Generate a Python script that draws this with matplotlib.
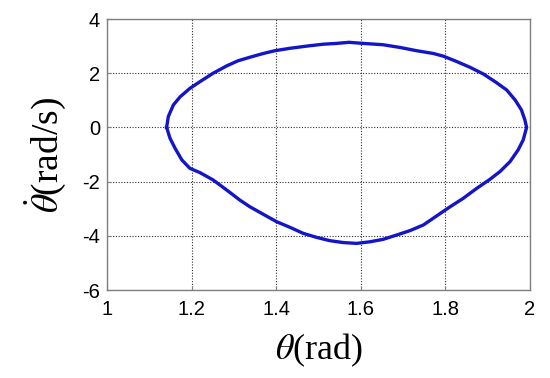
import matplotlib
matplotlib.use("Agg")
import matplotlib.pyplot as plt

theta = [1.141, 1.145, 1.157, 1.173, 1.196, 1.220, 1.251, 1.283, 1.310, 1.338,
         1.370, 1.397, 1.433, 1.472, 1.511, 1.543, 1.572, 1.606, 1.653, 1.693,
         1.732, 1.771, 1.795, 1.827, 1.858, 1.890, 1.921, 1.945, 1.965, 1.980,
         1.988, 1.992, 1.984, 1.972, 1.953, 1.929, 1.905, 1.874, 1.842, 1.811,
         1.779, 1.748, 1.716, 1.685, 1.653, 1.622, 1.590, 1.559, 1.527, 1.496,
         1.464, 1.433, 1.401, 1.370, 1.338, 1.314, 1.283, 1.251, 1.220, 1.196,
         1.177, 1.161, 1.149, 1.141]
theta_dot = [0.00, 0.40, 0.83, 1.13, 1.44, 1.69, 2.00, 2.27, 2.46, 2.59,
             2.73, 2.83, 2.92, 3.00, 3.07, 3.10, 3.14, 3.10, 3.05, 2.95,
             2.83, 2.73, 2.63, 2.43, 2.22, 1.97, 1.65, 1.38, 1.01, 0.64,
             0.27, 0.00, -0.46, -0.83, -1.26, -1.63, -1.92, -2.25, -2.62, -2.93,
             -3.27, -3.60, -3.81, -3.97, -4.13, -4.22, -4.28, -4.25, -4.18, -4.06,
             -3.91, -3.69, -3.48, -3.21, -2.93, -2.68, -2.31, -1.94, -1.67, -1.51,
             -1.20, -0.77, -0.40, 0.00]

xticks = [1, 1.2, 1.4, 1.6, 1.8, 2]
xticklabels = ["1", "1.2", "1.4", "1.6", "1.8", "2"]
yticks = [-6, -4, -2, 0, 2, 4]
yticklabels = ["-6", "-4", "-2", "0", "2", "4"]

plt.rcParams['mathtext.fontset'] = 'stix'

fig = plt.figure(figsize=(5.5, 3.78), dpi=100)
ax = fig.add_axes([0.1945, 0.2328, 0.7691, 0.7169])
ax.plot(theta, theta_dot, color='#1414c8', lw=2.4, solid_joinstyle='round')
ax.set_xlim(1, 2)
ax.set_ylim(-6, 4)
ax.set_xticks(xticks)
ax.set_xticklabels(xticklabels, fontfamily='Liberation Sans', fontsize=14.5)
ax.set_yticks(yticks)
ax.set_yticklabels(yticklabels, fontfamily='Liberation Sans', fontsize=14.5)
ax.tick_params(direction='in', length=3, color='#808080')
ax.tick_params(axis='x', pad=7)
ax.tick_params(axis='y', pad=5)
ax.grid(True, linestyle=(0, (1, 1.5)), color='#303030', lw=0.8)
for s in ax.spines.values():
    s.set_color('#808080')
    s.set_linewidth(1.0)
ax.set_xlabel(r'$\theta$(rad)', fontfamily='Liberation Serif', fontsize=26, labelpad=9)
ax.set_ylabel(r'$\dot{\theta}$(rad/s)', fontfamily='Liberation Serif', fontsize=27, labelpad=10)
fig.savefig('out.png', dpi=100)
